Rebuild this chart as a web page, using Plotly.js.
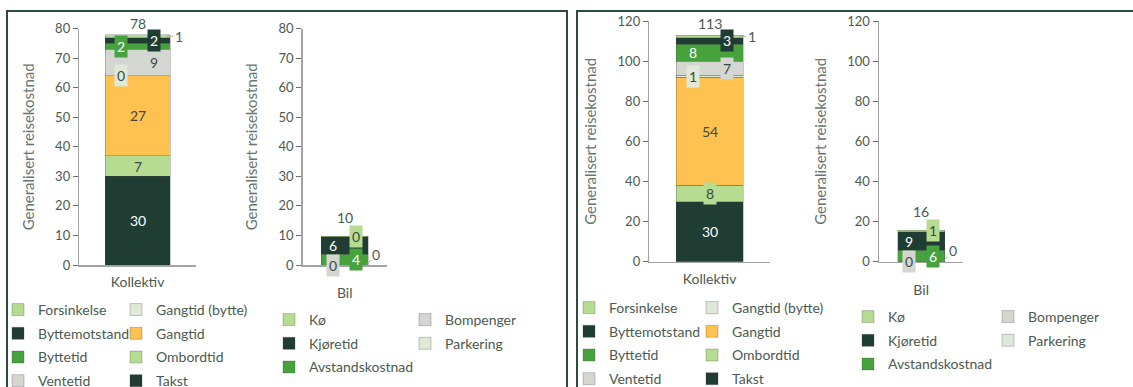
<!DOCTYPE html>
<html><head><meta charset="utf-8">
<script src="https://cdn.plot.ly/plotly-3.0.1.min.js"></script>
<style>html,body{margin:0;padding:0;background:#fff;overflow:hidden}#chart{width:1133px;height:387px}</style>
</head><body><div id="chart"></div>
<script>
// ---------------- data ----------------
const categories = ['Kollektiv', 'Bil'];
const kollektivSeries = ['Takst', 'Ombordtid', 'Gangtid', 'Gangtid (bytte)', 'Ventetid', 'Byttetid', 'Byttemotstand', 'Forsinkelse'];
const kollektivLeft  = [30, 7, 27, 0, 9, 2, 2, 1];
const kollektivRight = [29.9, 8.1, 54.0, 1.0, 7.0, 8.4, 3.3, 1.3];
const bilSeries = ['Parkering', 'Bompenger', 'Avstandskostnad', 'Kjøretid', 'Kø'];
const bilLeft  = [0, 0, 3.7, 5.8, 0.3];
const bilRight = [0, 0, 5.6, 9.4, 0.8];
const yTitleText = 'Generalisert reisekostnad';

// ---------------- styles ----------------
const DARK = '#1f3d33', LIGHTG = '#b6dc91', GREEN = '#47a23e', ORANGE = '#ffc14f', GRAY = '#d4d6d1', PALE = '#dfe9d7';
const colorOf = {
  'Takst': DARK, 'Ombordtid': LIGHTG, 'Gangtid': ORANGE, 'Gangtid (bytte)': PALE, 'Ventetid': GRAY,
  'Byttetid': GREEN, 'Byttemotstand': DARK, 'Forsinkelse': LIGHTG,
  'Parkering': PALE, 'Bompenger': GRAY, 'Avstandskostnad': GREEN, 'Kjøretid': DARK, 'Kø': LIGHTG
};
const darkBg = c => (c === DARK || c === GREEN);
const FONT = 'Lato, "Noto Sans", sans-serif';
const TXT = '#4a5a52';
const W = 1133, H = 387;
const px = v => v / W, py = v => 1 - v / H;

// label placement per stack position (style, not data)
const placeKollLeft  = ['c', 'c', 'c', 'Lbox', 'R', 'Lbox', 'Rbox', 'out'];
const placeKollRight = ['c', 'cbox', 'c', 'Lbox', 'Rbox', 'L', 'Rbox', 'out'];
const placeBil       = ['outBase', 'Lbox', 'Rbox', 'L', 'Rbox'];

const panels = [
  {kv: kollektivLeft, bv: bilLeft, xk: 'x', yk: 'y', xb: 'x2', yb: 'y2', placeK: placeKollLeft,
   legK: ['legend', 'legend2'], legB: ['legend3', 'legend4']},
  {kv: kollektivRight, bv: bilRight, xk: 'x3', yk: 'y3', xb: 'x4', yb: 'y4', placeK: placeKollRight,
   legK: ['legend5', 'legend6'], legB: ['legend7', 'legend8']}
];

const traces = [];
const annotations = [];
const HALF = 0.2775, OFF = 0.14;

function addStack(series, values, cat, xa, ya, places, legs, splitAt, pi) {
  let base = 0;
  series.forEach((name, i) => {
    const v = values[i];
    const col = colorOf[name];
    traces.push({
      type: 'bar', name: name, x: [cat], y: [v], xaxis: xa, yaxis: ya,
      marker: {color: col, line: {color: 'rgba(60,60,60,0.35)', width: 0.8}},
      legend: i >= splitAt ? legs[0] : legs[1], legendrank: 1000 - i,
      legendgroup: 'g' + pi + cat + i, showlegend: true, hoverinfo: 'name+y'
    });
    const mid = base + v / 2;
    const p = places[i];
    const txt = String(Math.round(v));
    const a = {xref: xa, yref: ya, y: mid, text: txt, showarrow: false,
      font: {family: FONT, size: 14, color: darkBg(col) ? '#ffffff' : '#3c4b44'}, borderpad: 2};
    if (p === 'c') { a.x = 0; }
    else if (p === 'cbox') { a.x = 0; a.bgcolor = col; }
    else if (p === 'L') { a.x = -OFF; }
    else if (p === 'R') { a.x = OFF; }
    else if (p === 'Lbox') { a.x = -OFF; a.bgcolor = col; }
    else if (p === 'Rbox') { a.x = OFF; a.bgcolor = col; }
    else if (p === 'out') {
      a.x = HALF - 0.03; a.showarrow = true; a.arrowhead = 0; a.arrowwidth = 0.8; a.arrowcolor = '#9a9a9a';
      a.ax = 12; a.ay = 0; a.font.color = TXT; a.borderpad = 1;
    } else if (p === 'outBase') {
      a.x = HALF - 0.02; a.y = base; a.showarrow = true; a.arrowhead = 0; a.arrowwidth = 0.8; a.arrowcolor = '#9a9a9a';
      a.ax = 10; a.ay = -11; a.font.color = TXT; a.borderpad = 1;
    }
    annotations.push(a);
    base += v;
  });
  const total = values.reduce((s, v) => s + v, 0);
  annotations.push({xref: xa, yref: ya, x: 0, y: total, text: String(Math.round(total)), showarrow: false,
    yanchor: 'bottom', yshift: cat === 'Bil' ? 8 : 1, font: {family: FONT, size: 14, color: TXT}});
}

panels.forEach((P, pi) => {
  addStack(kollektivSeries, P.kv, categories[0], P.xk, P.yk, P.placeK, P.legK, 4, pi);
  addStack(bilSeries, P.bv, categories[1], P.xb, P.yb, placeBil, P.legB, 2, pi);
});

// ---------------- axes ----------------
function xAxis(x0, x1, anchor, standoff) {
  return {domain: [px(x0), px(x1)], anchor: anchor, type: 'category', range: [-0.5, 0.5],
    showline: true, linecolor: '#a3a3a3', linewidth: 1.5, ticks: '', showgrid: false, zeroline: false,
    ticklabelstandoff: standoff, tickfont: {family: FONT, size: 14, color: TXT}, fixedrange: true};
}
function yAxis(yTop, yBot, anchor, range, dtick) {
  return {domain: [py(yBot), py(yTop)], anchor: anchor, range: range, dtick: dtick,
    showline: true, linecolor: '#a3a3a3', linewidth: 1.5, ticks: 'outside', ticklen: 5, tickwidth: 1,
    tickcolor: '#6d6d6d', showgrid: false, zeroline: false,
    tickfont: {family: FONT, size: 13, color: TXT}, fixedrange: true,
    title: {text: yTitleText, standoff: 17, font: {family: FONT, size: 15, color: '#66766e'}}};
}

const layout = {
  width: W, height: H, margin: {l: 0, r: 0, t: 0, b: 0, autoexpand: false}, paper_bgcolor: '#fff', plot_bgcolor: 'rgba(0,0,0,0)',
  barmode: 'stack', bargap: 0.445, font: {family: FONT, color: TXT},
  xaxis:  xAxis(79.3, 196, 'y', 4),
  yaxis:  yAxis(28.7, 265, 'x', [0, 80], 10),
  xaxis2: xAxis(302.7, 386.7, 'y2', 15),
  yaxis2: yAxis(28.7, 265, 'x2', [0, 80], 10),
  xaxis3: xAxis(649.3, 770, 'y3', 4),
  yaxis3: yAxis(21, 261.7, 'x3', [0, 120], 20),
  xaxis4: xAxis(879, 963.3, 'y4', 15),
  yaxis4: yAxis(21, 261.7, 'x4', [0, 120], 20),
  annotations: annotations,
  shapes: [
    {type: 'rect', xref: 'paper', yref: 'paper', x0: px(7), x1: px(567), y0: -0.2, y1: py(11), line: {color: '#2e4b3f', width: 2}},
    {type: 'rect', xref: 'paper', yref: 'paper', x0: px(577), x1: 1.2, y0: -0.2, y1: py(11), line: {color: '#2e4b3f', width: 2}}
  ],
  showlegend: true
};

function leg(textX, rowTop) {
  return {x: px(textX - 37), y: py(rowTop - 16), xanchor: 'left', yanchor: 'top', orientation: 'v',
    traceorder: 'grouped', tracegroupgap: 2.5, bgcolor: 'rgba(0,0,0,0)', borderwidth: 0,
    font: {family: FONT, size: 14, color: TXT}, itemclick: false, itemdoubleclick: false};
}
layout.legend  = leg(35, 310);
layout.legend2 = leg(153, 310);
layout.legend3 = leg(306, 320);
layout.legend4 = leg(442, 320);
layout.legend5 = leg(606, 308);
layout.legend6 = leg(729, 308);
layout.legend7 = leg(885, 317);
layout.legend8 = leg(1025, 317);

Plotly.newPlot('chart', traces, layout, {displayModeBar: false, staticPlot: true});
</script></body></html>
